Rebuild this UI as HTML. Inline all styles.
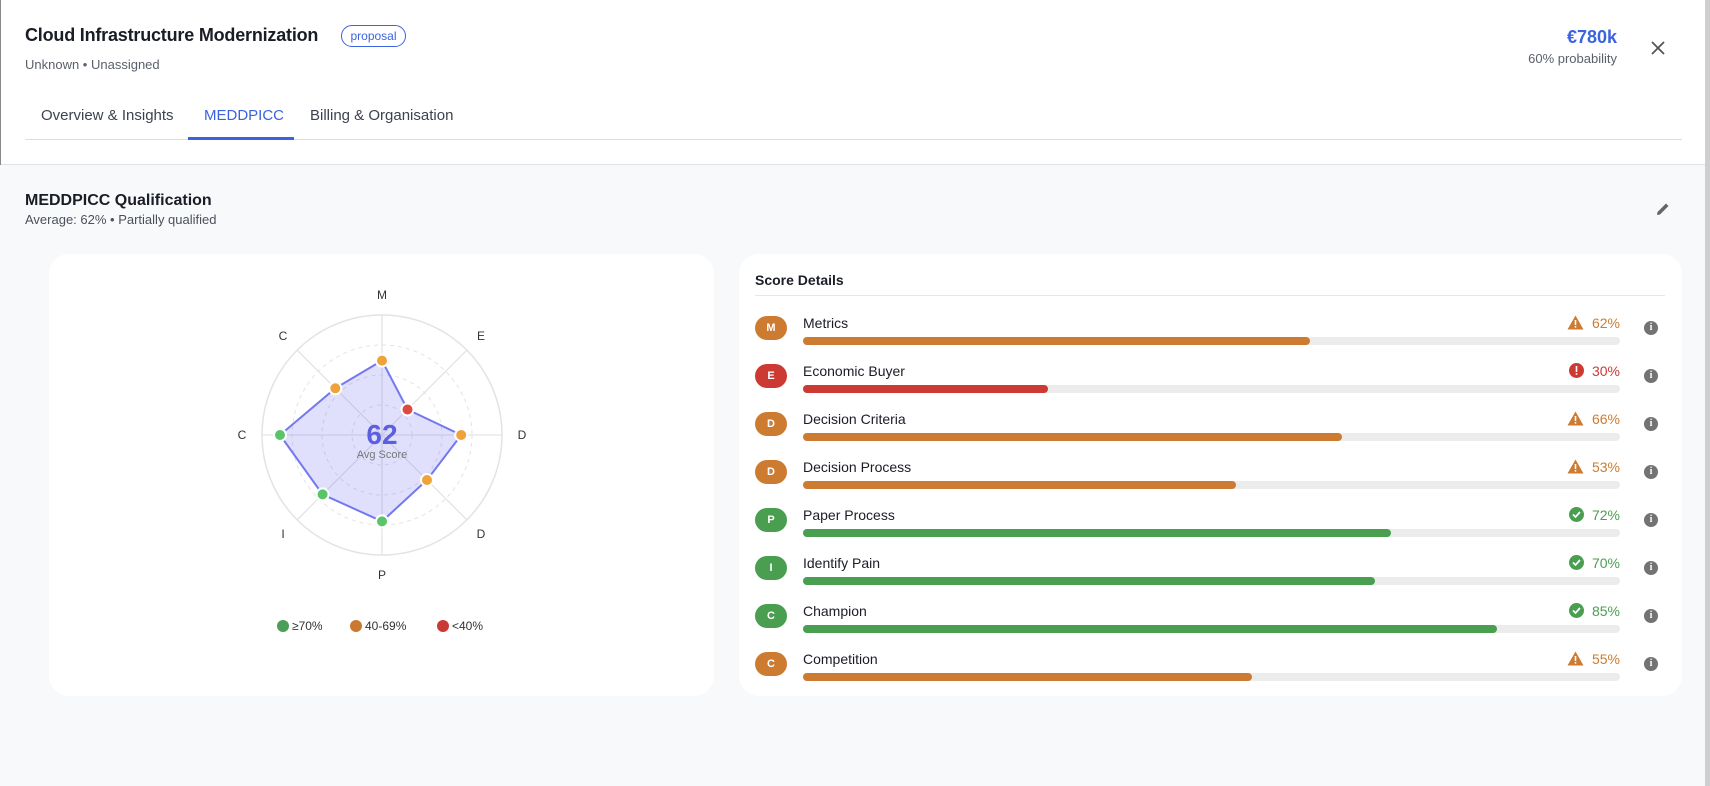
<!DOCTYPE html>
<html><head><meta charset="utf-8"><style>
*{box-sizing:border-box;margin:0;padding:0}
body{width:1710px;height:786px;overflow:hidden;font-family:"Liberation Sans",sans-serif;background:#f8f9fb;position:relative;color:#1a1d26}
.a{position:absolute;white-space:nowrap}
#hdr{position:absolute;left:0;top:0;width:1705px;height:165px;background:#fff;border-bottom:1px solid #dfe1e5}
#sb{position:absolute;left:1705px;top:0;width:5px;height:786px;background:#cfcfcf}
#lb{position:absolute;left:0;top:0;width:1px;height:165px;background:#888}
.card{position:absolute;background:#fff;border-radius:20px;top:254px;height:442px}
.lbl{font-size:14px;color:#1a1d26}
.badge{position:absolute;width:32px;height:24px;border-radius:12px;color:#fff;font-size:11px;font-weight:bold;text-align:center;line-height:24px}
.track{position:absolute;height:8px;border-radius:4px;background:#ececec;left:803px;width:817px}
.fill{height:8px;border-radius:4px}
.pct{font-size:14px;text-align:right}
.info{position:absolute;width:14px;height:14px;border-radius:7px;background:#737373;color:#fff;font-size:10px;font-weight:bold;text-align:center;line-height:14px;font-family:"Liberation Serif",serif}
</style></head><body>
<div id="hdr"></div><div id="lb"></div><div id="sb"></div>
<div class="a" style="left:25px;top:25px;font-size:18px;font-weight:bold;letter-spacing:-0.2px">Cloud Infrastructure Modernization</div>
<div class="a" style="left:341px;top:25px;width:65px;height:22px;border:1px solid #3b63e0;border-radius:11px;color:#3b63e0;font-size:12px;text-align:center;line-height:20px">proposal</div>
<div class="a" style="left:25px;top:57px;font-size:13px;color:#5b606b">Unknown • Unassigned</div>
<div class="a" style="right:93px;top:27px;font-size:18px;font-weight:bold;color:#3b63e0">€780k</div>
<div class="a" style="right:93px;top:51px;font-size:13px;color:#5b606b">60% probability</div>
<svg class="a" style="left:1650px;top:40px" width="16" height="16"><path d="M2 2L14 14M14 2L2 14" stroke="#555" stroke-width="1.8"/></svg>
<div class="a" style="left:41px;top:107px;font-size:15px;color:#3d4250">Overview &amp; Insights</div>
<div class="a" style="left:204px;top:107px;font-size:15px;color:#3b63e0">MEDDPICC</div>
<div class="a" style="left:310px;top:107px;font-size:15px;color:#3d4250">Billing &amp; Organisation</div>
<div class="a" style="left:25px;top:139px;width:1657px;height:1px;background:#dcdde0"></div>
<div class="a" style="left:188px;top:137px;width:106px;height:3px;background:#3b63e0"></div>
<div class="a" style="left:25px;top:192px;font-size:16px;font-weight:bold">MEDDPICC Qualification</div>
<div class="a" style="left:25px;top:212px;font-size:13px;color:#4b505b">Average: 62% • Partially qualified</div>
<svg class="a" style="left:1655px;top:201px" width="16" height="16"><path d="M2 14L2.5 11L11 2.5L13.5 5L5 13.5Z" fill="#666"/></svg>
<div class="card" style="left:49px;width:665px"></div>
<div class="card" style="left:739px;width:943px"></div>
<svg class="a" style="left:0;top:0" width="760" height="700">
<g fill="none" stroke="#e3e3e3">
<circle cx="382" cy="435" r="120" stroke-width="1.5"/>
<circle cx="382" cy="435" r="90" stroke-dasharray="4 4"/>
<circle cx="382" cy="435" r="60" stroke-dasharray="4 4"/>
<circle cx="382" cy="435" r="30" stroke-dasharray="4 4"/>
<path d="M382 315V555M262 435H502M297.1 350.1L466.9 519.9M466.9 350.1L297.1 519.9" stroke-width="1.3"/>
</g>
<polygon points="382,360.6 407.5,409.5 461.2,435 427,480 382,521.4 322.6,494.4 280,435 335.3,388.3" fill="rgba(99,102,241,0.2)" stroke="#7377f0" stroke-width="2"/>
<g stroke="#fff" stroke-width="2">
<circle cx="382" cy="360.6" r="6" fill="#eea23a"/><circle cx="407.5" cy="409.5" r="6" fill="#dc4a44"/>
<circle cx="461.2" cy="435" r="6" fill="#eea23a"/><circle cx="427" cy="480" r="6" fill="#eea23a"/>
<circle cx="382" cy="521.4" r="6" fill="#5ac46a"/><circle cx="322.6" cy="494.4" r="6" fill="#5ac46a"/>
<circle cx="280" cy="435" r="6" fill="#5ac46a"/><circle cx="335.3" cy="388.3" r="6" fill="#eea23a"/>
</g>
<text x="382" y="444" text-anchor="middle" font-size="28" font-weight="bold" fill="#5b5fe0" font-family="Liberation Sans">62</text>
<text x="382" y="458" text-anchor="middle" font-size="11" fill="#777" font-family="Liberation Sans">Avg Score</text>
<g font-size="12" fill="#333" text-anchor="middle" font-family="Liberation Sans">
<text x="382" y="299">M</text><text x="481" y="340">E</text><text x="522" y="439">D</text><text x="481" y="538">D</text>
<text x="382" y="579">P</text><text x="283" y="538">I</text><text x="242" y="439">C</text><text x="283" y="340">C</text>
</g>
<g font-size="12" fill="#333" font-family="Liberation Sans">
<circle cx="283" cy="626" r="6" fill="#4a9e55"/><text x="292" y="630">≥70%</text>
<circle cx="356" cy="626" r="6" fill="#c97a30"/><text x="365" y="630">40-69%</text>
<circle cx="443" cy="626" r="6" fill="#c93a34"/><text x="452" y="630">&lt;40%</text>
</g>
</svg>
<div class="a" style="left:755px;top:272px;font-size:14px;font-weight:bold">Score Details</div>
<div class="a" style="left:755px;top:295px;width:910px;height:1px;background:#e6e7ea"></div>
<div id="rows"></div>
<script>
var d=[["M","Metrics",62],["E","Economic Buyer",30],["D","Decision Criteria",66],["D","Decision Process",53],["P","Paper Process",72],["I","Identify Pain",70],["C","Champion",85],["C","Competition",55]];
var h="";
d.forEach(function(r,i){var y=i*48;var c=r[2]>=70?"#4a9e50":r[2]>=40?"#cd7b30":"#cc3a33";
var ic=r[2]>=70?'<svg width="15" height="15" style="vertical-align:-2px"><circle cx="7.5" cy="7.5" r="7.5" fill="'+c+'"/><path d="M4 7.5L6.5 10L11 5" stroke="#fff" stroke-width="1.8" fill="none"/></svg>':r[2]>=40?'<svg width="17" height="15" style="vertical-align:-2px"><path d="M8.5 0.5L16.5 14.5H0.5Z" fill="'+c+'"/><rect x="7.7" y="5" width="1.6" height="5" fill="#fff"/><rect x="7.7" y="11" width="1.6" height="1.6" fill="#fff"/></svg>':'<svg width="15" height="15" style="vertical-align:-2px"><circle cx="7.5" cy="7.5" r="7.5" fill="'+c+'"/><rect x="6.7" y="3" width="1.6" height="6" fill="#fff"/><rect x="6.7" y="10.2" width="1.6" height="1.6" fill="#fff"/></svg>';
h+='<div class="badge" style="left:755px;top:'+(316+y)+'px;background:'+c+'">'+r[0]+'</div>';
h+='<div class="a lbl" style="left:803px;top:'+(315+y)+'px">'+r[1]+'</div>';
h+='<div class="a pct" style="right:90px;top:'+(315+y)+'px;color:'+c+'">'+ic+'&nbsp; '+r[2]+'%</div>';
h+='<div class="track" style="top:'+(337+y)+'px"><div class="fill" style="width:'+r[2]+'%;background:'+c+'"></div></div>';
h+='<div class="info" style="left:1644px;top:'+(321+y)+'px">i</div>';});
document.getElementById("rows").innerHTML=h;
</script>
</body></html>
